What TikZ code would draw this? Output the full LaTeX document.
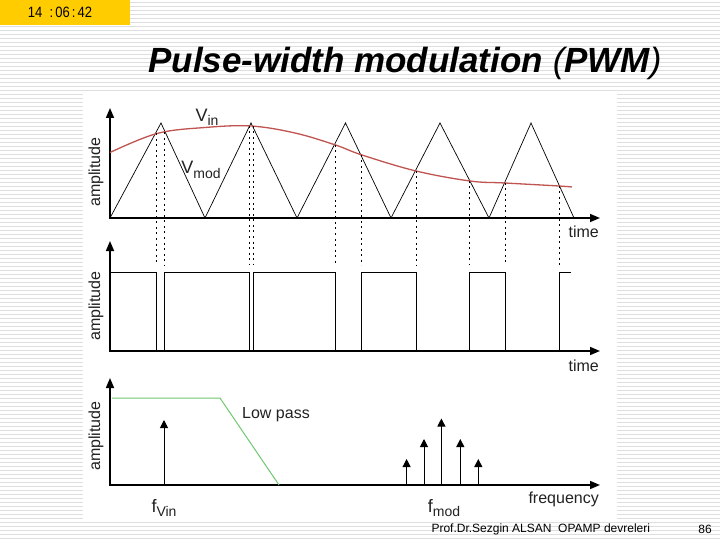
\documentclass[tikz,border=0pt]{standalone}
\usepackage{fontspec}
\setmainfont{Liberation Sans}
\usetikzlibrary{arrows.meta,positioning}
\definecolor{stampyellow}{HTML}{FFCC00}
\definecolor{stripegray}{HTML}{DEDEDE}
\definecolor{vinred}{HTML}{C05450}
\definecolor{passgreen}{HTML}{70C870}
\definecolor{labelgray}{HTML}{222222}
\newcommand{\lowsub}[1]{\raisebox{-0.45ex}{\fontsize{14}{14}\selectfont #1}}

\begin{document}
\begin{tikzpicture}[x=1pt,y=-1pt,
  axis/.style={line width=1.6pt,{Triangle[length=10pt,width=8pt]}-{Triangle[length=10pt,width=8pt]}},
  axislabel/.style={font=\fontsize{16}{16}\selectfont,text=labelgray,inner sep=0pt},
  spec/.style={line width=1pt,-{Triangle[length=8pt,width=8pt]}},
  cut/.style={line width=0.6pt,dash pattern=on 2pt off 3.5pt}]
  \useasboundingbox (0,0) rectangle (720,540);
  \foreach \y in {2,6,...,538}
    \draw[stripegray,line width=0.8pt] (0,\y) -- (720,\y);
  \fill[white] (83,92) rectangle (617,521);
  \fill[stampyellow] (0,0) rectangle (130,25);
  \node[font=\fontsize{13}{13}\selectfont,yscale=1.15] (stamp) at (60,12.5) {14\ \ :\,06\,:\,42};
  \node[font=\fontsize{35}{35}\selectfont\bfseries\itshape] (title) at (405,63)
    {Pulse-width modulation {\mdseries(}PWM{\mdseries)}};
  % modulation panel
  \coordinate (o1) at (110,218);
  \coordinate (t1) at (110,108);
  \coordinate (r1) at (600,218);
  \draw[axis] (t1) -- (o1) -- (r1);
  \node[axislabel,rotate=90] (amp1) at (96,172) {amplitude};
  \node[axislabel,anchor=east] (time1) at (599,232) {time};
  \draw[line width=0.7pt] (110,218) -- (161,123) -- (205,218) -- (251,123) -- (297,218) -- (345.5,123)
    -- (391,218) -- (440,123) -- (489,218) -- (531,123) -- (574,218);
  \draw[vinred,line width=1.3pt] plot[smooth,tension=0.6] coordinates {(110,152.5) (157,133.5) (205,127.5)
    (251,126) (295,133) (335.5,145) (362,155) (416,171) (470,181) (505,183) (559,186) (572,187)};
  \node[font=\fontsize{18}{18}\selectfont,text=labelgray] (vin) at (207,117) {V\lowsub{in}};
  \node[font=\fontsize{18}{18}\selectfont,text=labelgray] (vmod) at (201,170) {V\lowsub{mod}};
  \foreach \cx/\cy in {156.6/133.5,164.5/132.5,249/126,253.4/126,335.5/145,361.7/155,416/171,469.7/181,505.4/183,559.3/186}
    \draw[cut] (\cx,\cy) -- (\cx,265);
  % pwm panel
  \coordinate (o2) at (110,351);
  \coordinate (t2) at (110,241);
  \coordinate (r2) at (600,351);
  \draw[axis] (t2) -- (o2) -- (r2);
  \node[axislabel,rotate=90] (amp2) at (96,306) {amplitude};
  \node[axislabel,anchor=east] (time2) at (599,366) {time};
  \draw[line width=0.8pt] (110,272) \foreach \d/\u in {156.6/164.5,249/253.4,335.5/361.7,416/469.7,505.4/559.3}
    { -- (\d,272) -- (\d,351) -- (\u,351) -- (\u,272) } -- (571,272);
  % spectrum panel
  \coordinate (o3) at (110,485);
  \coordinate (t3) at (110,378);
  \coordinate (r3) at (600,485);
  \draw[axis] (t3) -- (o3) -- (r3);
  \node[axislabel,rotate=90] (amp3) at (96,436) {amplitude};
  \node[axislabel,anchor=east] (freq) at (599,499) {frequency};
  \draw[passgreen,line width=1pt] (112,398) -- (220,398) -- (279,485);
  \node[axislabel,anchor=west] (lowpass) at (242,415) {Low pass};
  \draw[spec] (164,485) -- (164,420);
  \foreach \fx/\fy in {406.6/459,424/439,441.4/418.5,460.3/439,478.3/459}
    \draw[spec] (\fx,485) -- (\fx,\fy);
  \node[font=\fontsize{18}{18}\selectfont,text=labelgray] (fvin) at (164,508) {f\lowsub{Vin}};
  \node[font=\fontsize{18}{18}\selectfont,text=labelgray] (fmod) at (444,508) {f\lowsub{mod}};
  % footer
  \node[font=\fontsize{12}{12}\selectfont,anchor=west] (author) at (428,529) {Prof.Dr.Sezgin ALSAN\ \ OPAMP devreleri};
  \node[font=\fontsize{12}{12}\selectfont] (page) at (705,529) {86};
\end{tikzpicture}
\end{document}
